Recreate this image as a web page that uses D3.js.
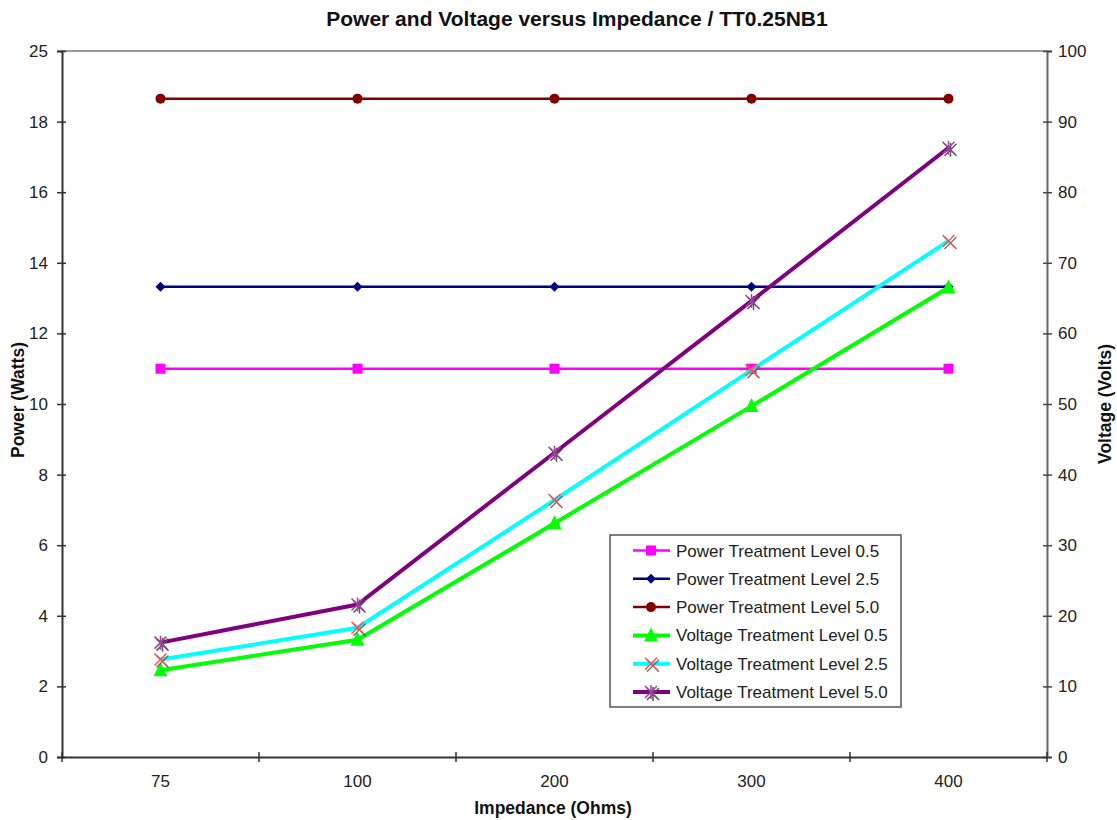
<!DOCTYPE html>
<html><head><meta charset="utf-8">
<script src="https://cdn.jsdelivr.net/npm/d3@7"></script>
<style>body{margin:0;background:#fff;} text{font-family:"Liberation Sans",Arial,sans-serif;}</style>
</head><body>
<svg id="c" width="1117" height="820"></svg>
<script>
const categories = ["75","100","200","300","400"];
const powerTicks = [0,2,4,6,8,10,12,14,16,18,20];
const powerTickLabels = ["0","2","4","6","8","10","12","14","16","18","25"];
const voltTicks = [0,10,20,30,40,50,60,70,80,90,100];
const power05 = [11.0,11.0,11.0,11.0,11.0];
const power25 = [13.32,13.32,13.32,13.32,13.32];
const power50 = [18.65,18.65,18.65,18.65,18.65];
const volt05 = [12.3,16.6,33.1,49.7,66.5];
const volt25 = [13.8,18.3,36.4,54.8,73.1];
const volt50 = [16.2,21.6,43.1,64.6,86.3];

const series = [
  {name:"Power Treatment Level 0.5", vals:power05, axis:"p", color:"#FF00FF", w:2.5, marker:"square"},
  {name:"Power Treatment Level 2.5", vals:power25, axis:"p", color:"#000080", w:2.5, marker:"diamond"},
  {name:"Power Treatment Level 5.0", vals:power50, axis:"p", color:"#800000", w:2.5, marker:"circle"},
  {name:"Voltage Treatment Level 0.5", vals:volt05, axis:"v", color:"#00FF00", w:4, marker:"triangle"},
  {name:"Voltage Treatment Level 2.5", vals:volt25, axis:"v", color:"#00FFFF", w:4, marker:"x"},
  {name:"Voltage Treatment Level 5.0", vals:volt50, axis:"v", color:"#800080", w:4, marker:"star"}
];

const svg = d3.select("#c");
const L=62, R=1047, T=51, B=757;
const FS = "17px";
const x = d3.scaleBand().domain(categories).range([L,R]);
const yP = d3.scaleLinear().domain([0,20]).range([B,T]);
const yV = d3.scaleLinear().domain([0,100]).range([B,T]);

// title
svg.append("text").attr("x",577).attr("y",26).attr("text-anchor","middle")
  .style("font-size","21px").style("font-weight","bold").attr("fill","#111")
  .text("Power and Voltage versus Impedance / TT0.25NB1");

// top border
svg.append("line").attr("x1",L).attr("x2",R).attr("y1",T).attr("y2",T).attr("stroke","#999").attr("stroke-width",2);

// left axis
const gL = svg.append("g").attr("transform",`translate(${L},0)`)
  .call(d3.axisLeft(yP).tickValues(powerTicks).tickSizeOuter(0).tickSize(5).tickPadding(9)
    .tickFormat((d,i)=>powerTickLabels[i]));
gL.select(".domain").attr("stroke","#333").attr("stroke-width",2);
gL.selectAll(".tick line").attr("stroke","#333").attr("stroke-width",1.5).attr("x2",4).attr("x1",-5);
gL.selectAll(".tick text").style("font-size",FS).attr("fill","#222").attr("font-family","Liberation Sans, Arial, sans-serif");

// right axis
const gR = svg.append("g").attr("transform",`translate(${R},0)`)
  .call(d3.axisRight(yV).tickValues(voltTicks).tickSizeOuter(0).tickSize(5).tickPadding(6));
gR.select(".domain").attr("stroke","#666").attr("stroke-width",2);
gR.selectAll(".tick line").attr("stroke","#444").attr("stroke-width",1.5).attr("x1",-4).attr("x2",5);
gR.selectAll(".tick text").style("font-size",FS).attr("fill","#222").attr("font-family","Liberation Sans, Arial, sans-serif");

// bottom axis
const gB = svg.append("g").attr("transform",`translate(0,${B})`)
  .call(d3.axisBottom(x).tickSize(0).tickPadding(18));
gB.select(".domain").attr("stroke","#333").attr("stroke-width",2);
gB.selectAll(".tick text").style("font-size",FS).attr("fill","#222").attr("font-family","Liberation Sans, Arial, sans-serif");
const bounds = categories.map(c=>x(c)).concat([x(categories[categories.length-1])+x.bandwidth()]);
svg.append("g").selectAll("line").data(bounds).join("line")
  .attr("x1",d=>d).attr("x2",d=>d).attr("y1",B-5).attr("y2",B+5).attr("stroke","#333").attr("stroke-width",1.5);

// axis titles
svg.append("text").attr("x",553).attr("y",814).attr("text-anchor","middle")
  .style("font-size","17.5px").style("font-weight","bold").attr("fill","#111").text("Impedance (Ohms)");
svg.append("text").attr("transform","translate(24,400) rotate(-90)").attr("text-anchor","middle")
  .style("font-size","17.5px").style("font-weight","bold").attr("fill","#111").text("Power (Watts)");
svg.append("text").attr("transform","translate(1111,404) rotate(-90)").attr("text-anchor","middle")
  .style("font-size","17.5px").style("font-weight","bold").attr("fill","#111").text("Voltage (Volts)");

function drawMarker(g, type, cx, cy, color){
  if(type==="square"){
    g.append("rect").attr("x",cx-5).attr("y",cy-5).attr("width",10).attr("height",10).attr("fill",color);
  } else if(type==="diamond"){
    g.append("path").attr("d",`M${cx},${cy-5}L${cx+5},${cy}L${cx},${cy+5}L${cx-5},${cy}Z`).attr("fill",color);
  } else if(type==="circle"){
    g.append("circle").attr("cx",cx).attr("cy",cy).attr("r",5).attr("fill",color);
  } else if(type==="triangle"){
    g.append("path").attr("d",`M${cx},${cy-8}L${cx+7},${cy+6}L${cx-7},${cy+6}Z`).attr("fill",color);
  } else if(type==="x"){
    const s=6;
    g.append("path").attr("d",`M${cx+2-s},${cy+2-s}L${cx+2+s},${cy+2+s}M${cx+2-s},${cy+2+s}L${cx+2+s},${cy+2-s}`)
      .attr("stroke","#555").attr("stroke-width",1.5).attr("opacity",0.8);
    g.append("path").attr("d",`M${cx-s},${cy-s}L${cx+s},${cy+s}M${cx-s},${cy+s}L${cx+s},${cy-s}`)
      .attr("stroke","#FF5050").attr("stroke-width",1.5);
  } else if(type==="star"){
    const s=6;
    const st = (ox,oy,c)=>g.append("path").attr("d",
      `M${cx+ox-s},${cy+oy-s}L${cx+ox+s},${cy+oy+s}M${cx+ox-s},${cy+oy+s}L${cx+ox+s},${cy+oy-s}M${cx+ox},${cy+oy-s-1}L${cx+ox},${cy+oy+s+1}`)
      .attr("stroke",c).attr("stroke-width",1.5);
    st(2,2,"#555");
    st(0,0,"#A040A0");
  }
}

const plot = svg.append("g");
series.forEach(s=>{
  const ys = s.axis==="p"?yP:yV;
  const pts = s.vals.map((v,i)=>[x(categories[i])+x.bandwidth()/2, ys(v)]);
  plot.append("path").attr("d",d3.line()(pts)).attr("fill","none").attr("stroke",s.color).attr("stroke-width",s.w);
  const mg = plot.append("g");
  pts.forEach(p=>drawMarker(mg,s.marker,p[0],p[1],s.color));
});

// legend
const lg = svg.append("g");
lg.append("rect").attr("x",610).attr("y",535).attr("width",291).attr("height",172)
  .attr("fill","#fff").attr("stroke","#555").attr("stroke-width",1.5);
series.forEach((s,i)=>{
  const yy = 550.5 + i*28.3;
  lg.append("line").attr("x1",633).attr("x2",670).attr("y1",yy).attr("y2",yy).attr("stroke",s.color).attr("stroke-width",s.w);
  drawMarker(lg, s.marker, 651, yy, s.color);
  lg.append("text").attr("x",676).attr("y",yy+6).style("font-size",FS).attr("fill","#222").text(s.name);
});
</script>
</body></html>
